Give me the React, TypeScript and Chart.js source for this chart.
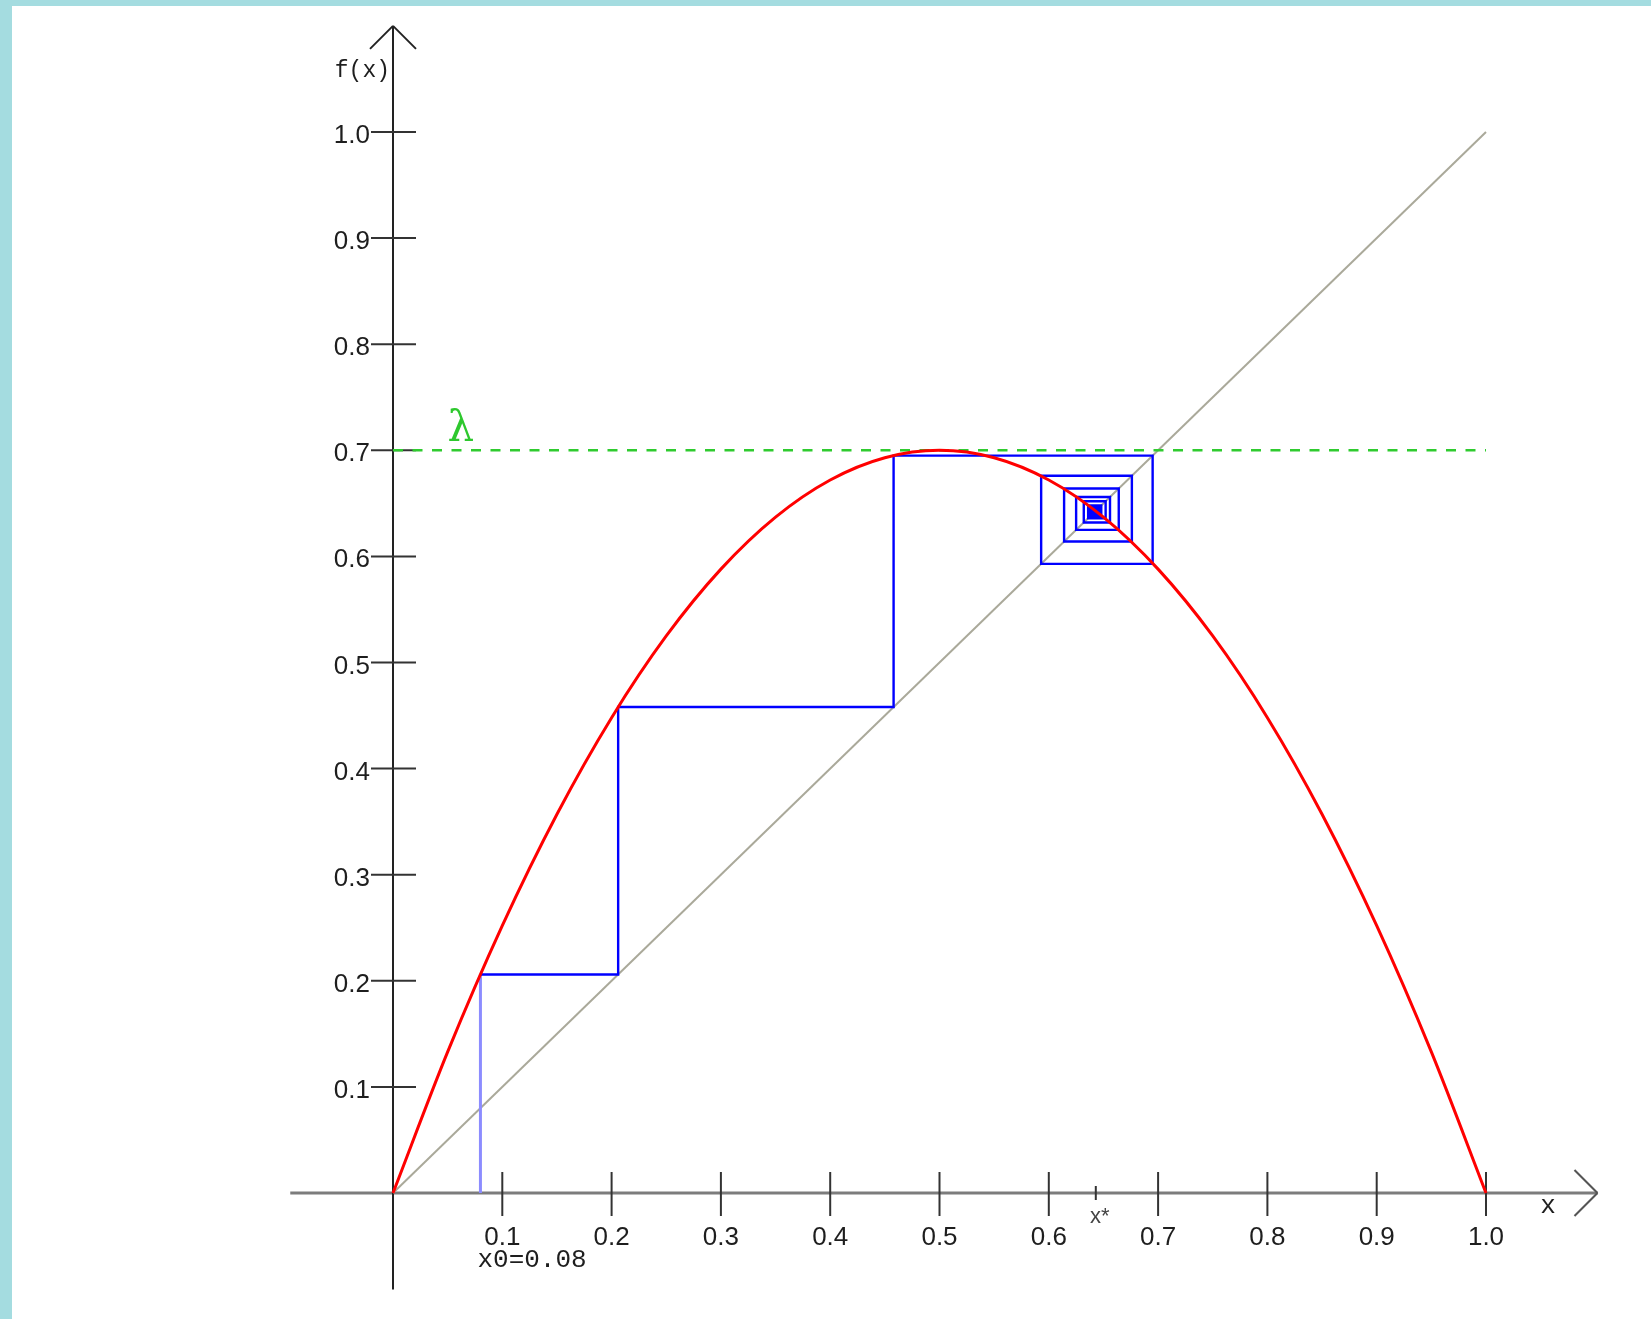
import React, { useEffect, useRef } from "react";
import { Chart, registerables } from "chart.js";

Chart.register(...registerables);

// ---- data ----
const curveX = [0, 0.05, 0.1, 0.15, 0.2, 0.25, 0.3, 0.35, 0.4, 0.45, 0.5, 0.55, 0.6, 0.65, 0.7, 0.75, 0.8, 0.85, 0.9, 0.95, 1.0];
const curveY = [0, 0.133, 0.252, 0.357, 0.448, 0.525, 0.588, 0.637, 0.672, 0.693, 0.7, 0.693, 0.672, 0.637, 0.588, 0.525, 0.448, 0.357, 0.252, 0.133, 0];

// cobweb iterates x0, x1, x2, ...
const iterates = [0.08, 0.206, 0.458, 0.695, 0.593, 0.676, 0.614, 0.664, 0.625, 0.656, 0.632, 0.652, 0.636, 0.648, 0.638, 0.646, 0.64, 0.645, 0.641, 0.644, 0.642, 0.643];

const diagonalX = [0, 1];
const diagonalY = [0, 1];
const lambdaX = [0, 1];
const lambdaY = [0.7, 0.7];

const xTickValues = [0.1, 0.2, 0.3, 0.4, 0.5, 0.6, 0.7, 0.8, 0.9, 1.0];
const xTickLabels = ["0.1", "0.2", "0.3", "0.4", "0.5", "0.6", "0.7", "0.8", "0.9", "1.0"];
const yTickValues = [0.1, 0.2, 0.3, 0.4, 0.5, 0.6, 0.7, 0.8, 0.9, 1.0];
const yTickLabels = ["0.1", "0.2", "0.3", "0.4", "0.5", "0.6", "0.7", "0.8", "0.9", "1.0"];
const fixedPoint = 0.643;
const fixedPointLabel = "x*";
const startLabel = "x0=0.08";
const yAxisTitle = "f(x)";
const xAxisTitle = "x";
const lambdaLabel = "λ";

const W = 1639;
const H = 1313;

const axesPlugin = {
  id: "cobwebAxes",
  beforeDatasetsDraw(chart: any) {
    const { ctx, scales } = chart;
    const xs = scales.x;
    const ys = scales.y;
    const px = (v: number) => xs.getPixelForValue(v);
    const py = (v: number) => ys.getPixelForValue(v);
    const ox = px(0);
    const oy = py(0);
    const line = (a: number, b: number, c: number, d: number) => {
      ctx.beginPath();
      ctx.moveTo(a, b);
      ctx.lineTo(c, d);
      ctx.stroke();
    };
    ctx.save();
    ctx.lineCap = "butt";

    // x axis
    ctx.strokeStyle = "#7c7c7c";
    ctx.lineWidth = 3;
    const xTip = px(1.102);
    line(px(-0.094), oy, xTip, oy);
    ctx.strokeStyle = "#555";
    ctx.lineWidth = 2;
    line(xTip - 23, oy - 23, xTip, oy);
    line(xTip - 23, oy + 23, xTip, oy);

    // y axis
    ctx.strokeStyle = "#222";
    ctx.lineWidth = 2;
    const yTip = py(1.1);
    line(ox, py(-0.091), ox, yTip);
    line(ox - 23, yTip + 23, ox, yTip);
    line(ox + 23, yTip + 23, ox, yTip);

    // ticks
    ctx.strokeStyle = "#333";
    ctx.lineWidth = 2;
    xTickValues.forEach((v) => line(px(v), oy - 21, px(v), oy + 23));
    yTickValues.forEach((v) => line(ox - 22, py(v), ox + 23, py(v)));
    line(px(fixedPoint), oy - 7, px(fixedPoint), oy + 7);

    // labels
    ctx.fillStyle = "#1e1e1e";
    ctx.font = '26px "Liberation Sans", Arial, sans-serif';
    ctx.textBaseline = "alphabetic";
    ctx.textAlign = "center";
    xTickValues.forEach((v, i) => ctx.fillText(xTickLabels[i], px(v), oy + 52));
    ctx.textAlign = "right";
    yTickValues.forEach((v, i) => ctx.fillText(yTickLabels[i], ox - 23, py(v) + 11));

    ctx.font = '26px "Liberation Mono", monospace';
    ctx.textAlign = "left";
    ctx.fillText(startLabel, px(iterates[0]) - 3, oy + 74);

    ctx.font = '23px "Liberation Mono", monospace';
    ctx.textAlign = "right";
    ctx.fillText(yAxisTitle, ox - 3, py(1.1) + 51);

    ctx.font = '26px "Liberation Mono", monospace';
    ctx.textAlign = "center";
    ctx.fillText(xAxisTitle, px(1.0567), oy + 20);

    ctx.fillStyle = "#444";
    ctx.font = '22px "Liberation Sans", Arial, sans-serif';
    ctx.fillText(fixedPointLabel, px(fixedPoint) + 4, oy + 30);

    ctx.fillStyle = "#2ec82e";
    ctx.font = '42px "DejaVu Serif", serif';
    ctx.textAlign = "center";
    ctx.fillText(lambdaLabel, px(0.062), py(0.7) - 9);

    ctx.restore();
  },
};

function buildCobweb() {
  const pts: { x: number; y: number }[] = [{ x: iterates[0], y: 0 }];
  for (let i = 0; i < iterates.length - 1; i++) {
    pts.push({ x: iterates[i], y: iterates[i + 1] });
    pts.push({ x: iterates[i + 1], y: iterates[i + 1] });
  }
  return pts;
}

export default function App() {
  const ref = useRef<HTMLCanvasElement | null>(null);

  useEffect(() => {
    if (!ref.current) return;
    const pxPerX = 1093;
    const originX = 381;
    const pxPerY = 1061;
    const originY = 1187;
    const chart = new Chart(ref.current, {
      type: "scatter",
      data: {
        datasets: [
          {
            label: "f",
            data: curveX.map((x, i) => ({ x, y: curveY[i] })),
            showLine: true,
            borderColor: "#ff0000",
            borderWidth: 3,
            pointRadius: 0,
            cubicInterpolationMode: "monotone",
            order: 0,
          },
          {
            label: "cobweb",
            data: buildCobweb(),
            showLine: true,
            borderColor: "#0000ff",
            borderWidth: 2.4,
            pointRadius: 0,
            tension: 0,
            segment: {
              borderColor: (c: any) => (c.p0DataIndex === 0 ? "#8c8cff" : undefined),
              borderWidth: (c: any) => (c.p0DataIndex === 0 ? 3 : undefined),
            },
            order: 1,
          },
          {
            label: "lambda",
            data: lambdaX.map((x, i) => ({ x, y: lambdaY[i] })),
            showLine: true,
            borderColor: "#2fcb2f",
            borderWidth: 2.4,
            borderDash: [10, 9.5],
            pointRadius: 0,
            order: 2,
          },
          {
            label: "diagonal",
            data: diagonalX.map((x, i) => ({ x, y: diagonalY[i] })),
            showLine: true,
            borderColor: "#aaa99a",
            borderWidth: 2,
            pointRadius: 0,
            order: 3,
          },
        ],
      },
      options: {
        responsive: false,
        animation: false,
        devicePixelRatio: 1,
        layout: { padding: 0 },
        plugins: { legend: { display: false }, tooltip: { enabled: false } },
        events: [],
        scales: {
          x: {
            type: "linear",
            display: false,
            min: -originX / pxPerX,
            max: (W - originX) / pxPerX,
          },
          y: {
            type: "linear",
            display: false,
            min: -(H - originY) / pxPerY,
            max: originY / pxPerY,
          },
        },
      },
      plugins: [axesPlugin],
    } as any);
    return () => chart.destroy();
  }, []);

  return (
    <div style={{ position: "fixed", left: 0, top: 0, width: 1651, height: 1319, background: "#a4dce0", overflow: "hidden" }}>
      <div style={{ position: "absolute", left: 12, top: 6, width: W, height: H, background: "#ffffff" }}>
        <canvas ref={ref} width={W} height={H} style={{ display: "block", width: W, height: H }} />
      </div>
    </div>
  );
}
